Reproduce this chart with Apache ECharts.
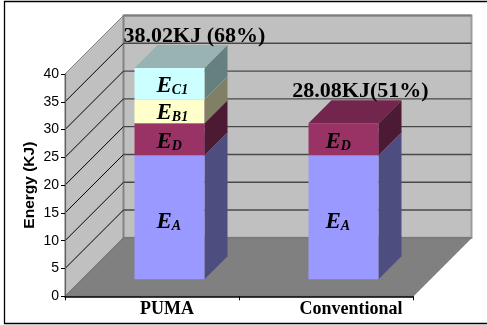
<!DOCTYPE html>
<html>
<head>
<meta charset="utf-8">
<style>html,body{margin:0;padding:0;background:#fff}#chart{width:487px;height:325px}</style>
<script src="https://cdn.jsdelivr.net/npm/echarts@6/dist/echarts.min.js"></script>
</head>
<body>
<div id="chart"></div>
<script>
// Energy per cycle, stacked by component
const categories = ['PUMA', 'Conventional'];
const valueTicks = [0, 5, 10, 15, 20, 25, 30, 35, 40];
const energyA = [22.3, 22.3];
const energyD = [5.78, 5.78];
const energyB1 = [4.3, 0];
const energyC1 = [5.64, 0];
const totals = [38.02, 28.08];
const totalLabels = ['38.02KJ (68%)', '28.08KJ(51%)'];

// Oblique projection of the chart box and of the bars inside it
const WALL_DEPTH = 58.5;
const BAR_INSET = 17;
const BAR_DEPTH = 23;
const BAR_WIDTH = 70;
const TOTAL_NUDGE = [14, 6];
const CAPTION_INDENT = [22, 17];

const SERIF = '"Liberation Serif", "Times New Roman", serif';
const SANS = '"Liberation Sans", Arial, sans-serif';

function wallsItem(params) {
  const g = params.coordSys, d = WALL_DEPTH;
  const l = g.x, r = g.x + g.width, t = g.y, b = g.y + g.height;
  return {
    type: 'group',
    silent: true,
    children: [
      { type: 'polygon', shape: { points: [[l, b], [l + d, b - d], [l + d, t - d], [l, t]] },
        style: { fill: '#c0c0c0', stroke: '#808080', lineWidth: 1 } },
      { type: 'polygon', shape: { points: [[l + d, b - d], [r + d, b - d], [r + d, t - d], [l + d, t - d]] },
        style: { fill: '#c0c0c0', stroke: '#9c9c9c', lineWidth: 2 } },
      { type: 'line', shape: { x1: l + d, y1: t - d, x2: r + d, y2: t - d },
        style: { stroke: '#7c7c7c', lineWidth: 2 } },
      { type: 'line', shape: { x1: l + d, y1: t - d, x2: l + d, y2: b - d },
        style: { stroke: '#808080', lineWidth: 1.5 } },
      { type: 'polygon', shape: { points: [[l, b], [r, b], [r + d, b - d], [l + d, b - d]] },
        style: { fill: '#808080', stroke: '#6e6e6e', lineWidth: 1 } }
    ]
  };
}

function gridItem(params, api) {
  const g = params.coordSys, d = WALL_DEPTH;
  const y = api.coord([0, api.value(0)])[1];
  const l = g.x, r = g.x + g.width;
  return {
    type: 'group',
    silent: true,
    children: [
      { type: 'line', shape: { x1: l, y1: y, x2: l + d, y2: y - d },
        style: { stroke: '#000', lineWidth: 1 } },
      { type: 'line', shape: { x1: l + d, y1: y - d, x2: r + d, y2: y - d },
        style: { stroke: '#484848', lineWidth: 1.4 } }
    ]
  };
}

function richLabel(main, sub) {
  return {
    text: '{e|' + main + '}{s|' + sub + '}',
    rich: {
      e: { fontFamily: SERIF, fontStyle: 'italic', fontWeight: 'bold', fontSize: 23, fill: '#000', lineHeight: 24, verticalAlign: 'bottom' },
      s: { fontFamily: SERIF, fontStyle: 'italic', fontWeight: 'bold', fontSize: 14, fill: '#000', lineHeight: 25, verticalAlign: 'bottom' }
    }
  };
}

// One stacked block: side face, top face, front face and its caption
function segmentSeries(values, stackedBelow, front, side, top, sub, labelDy) {
  return {
    type: 'custom',
    coordinateSystem: 'cartesian2d',
    z: 4,
    silent: true,
    data: categories.map(function (c, i) { return [i, values[i], stackedBelow(i)]; }),
    renderItem: function (params, api) {
      const i = api.value(0), v = api.value(1), base = api.value(2);
      if (!v) return null;
      const lo = api.coord([i, base]);
      const hi = api.coord([i, base + v]);
      const x0 = lo[0] + BAR_INSET - BAR_WIDTH / 2 + 0.5, x1 = x0 + BAR_WIDTH;
      const yb = lo[1] - BAR_INSET, yt = hi[1] - BAR_INSET;
      const d = BAR_DEPTH;
      const lbl = richLabel('E', sub);
      return {
        type: 'group',
        children: [
          { type: 'polygon', shape: { points: [[x1, yb], [x1 + d, yb - d], [x1 + d, yt - d], [x1, yt]] }, style: { fill: side } },
          { type: 'polygon', shape: { points: [[x0, yt], [x1, yt], [x1 + d, yt - d], [x0 + d, yt - d]] }, style: { fill: top } },
          { type: 'rect', shape: { x: x0, y: yt, width: BAR_WIDTH, height: yb - yt }, style: { fill: front } },
          { type: 'text', z2: 5, style: Object.assign({
              x: x0 + CAPTION_INDENT[i],
              y: (yb + yt) / 2 + labelDy,
              align: 'left', verticalAlign: 'middle'
            }, lbl) }
        ]
      };
    }
  };
}

const belowD = function (i) { return energyA[i]; };
const belowB = function (i) { return energyA[i] + energyD[i]; };
const belowC = function (i) { return energyA[i] + energyD[i] + energyB1[i]; };

const chart = echarts.init(document.getElementById('chart'), null, { renderer: 'canvas' });
chart.setOption({
  animation: false,
  backgroundColor: '#fff',
  graphic: [{
    type: 'rect',
    silent: true,
    z: 0,
    shape: { x: 4.5, y: 1.5, width: 600, height: 322 },
    style: { fill: 'none', stroke: '#000', lineWidth: 1.3 }
  }],
  grid: { left: 65, top: 74, width: 348, height: 222.3, containLabel: false },
  xAxis: {
    type: 'category',
    data: categories,
    z: 10,
    axisLine: { lineStyle: { color: '#000', width: 1.5 } },
    axisTick: { show: true, alignWithLabel: false, length: 4, lineStyle: { color: '#000' } },
    axisLabel: {
      margin: 4,
      interval: 0,
      formatter: function (v, i) { return '{c' + i + '|' + v + '}'; },
      rich: {
        c0: { fontFamily: SERIF, fontWeight: 'bold', fontSize: 18, color: '#000', padding: [0, 0, 0, 30] },
        c1: { fontFamily: SERIF, fontWeight: 'bold', fontSize: 18, color: '#000', padding: [0, 0, 0, 50] }
      }
    }
  },
  yAxis: {
    type: 'value',
    min: 0,
    max: 40,
    interval: 5,
    z: 10,
    name: 'Energy (KJ)',
    nameLocation: 'middle',
    nameRotate: 90,
    nameGap: 27,
    nameMoveOverlap: false,
    nameTextStyle: { fontFamily: SANS, fontWeight: 'bold', fontSize: 15.5, color: '#000' },
    splitLine: { show: false },
    axisLine: { show: true, lineStyle: { color: '#606060', width: 1.2 } },
    axisTick: { show: true, length: 4, lineStyle: { color: '#000' } },
    axisLabel: { margin: 6, fontFamily: SANS, fontSize: 14, color: '#000' }
  },
  series: [
    { type: 'custom', coordinateSystem: 'cartesian2d', z: 1, silent: true, data: [[0, 0]], renderItem: wallsItem },
    { type: 'custom', coordinateSystem: 'cartesian2d', z: 2, silent: true,
      data: valueTicks.slice(1, -1).map(function (t) { return [t]; }),
      encode: { y: 0 }, renderItem: gridItem },
    segmentSeries(energyA, function () { return 0; }, '#9999ff', '#4d4d80', '#737399', 'A', 4),
    segmentSeries(energyD, belowD, '#993366', '#4d1a33', '#73264d', 'D', 2),
    segmentSeries(energyB1, belowB, '#ffffcc', '#808066', '#bfbf99', 'B1', 1),
    segmentSeries(energyC1, belowC, '#ccffff', '#668080', '#99b3b3', 'C1', 1),
    {
      type: 'custom',
      coordinateSystem: 'cartesian2d',
      z: 6,
      silent: true,
      data: totals.map(function (t, i) { return [i, t]; }),
      renderItem: function (params, api) {
        const i = api.value(0);
        const p = api.coord([i, api.value(1)]);
        return {
          type: 'text',
          style: {
            text: totalLabels[i],
            x: p[0] + BAR_INSET + BAR_DEPTH / 2 + TOTAL_NUDGE[i],
            y: p[1] - BAR_INSET - BAR_DEPTH - 9,
            align: 'center',
            verticalAlign: 'middle',
            fontFamily: SERIF,
            fontWeight: 'bold',
            fontSize: 22,
            fill: '#000'
          }
        };
      }
    }
  ]
});
</script>
</body>
</html>
